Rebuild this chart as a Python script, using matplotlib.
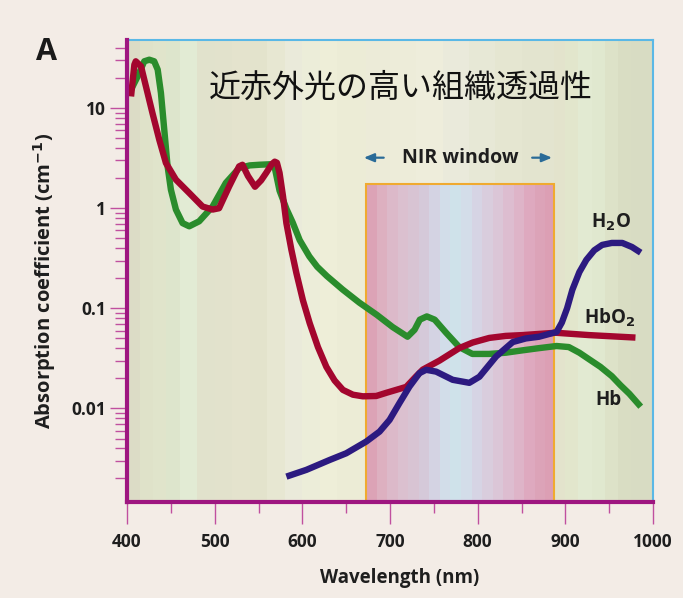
import matplotlib
matplotlib.use("Agg")
import matplotlib.pyplot as plt
from matplotlib.ticker import FixedLocator, LogLocator, NullFormatter, FuncFormatter
from matplotlib.patches import Rectangle

# ---------------- data ----------------
hb_wl = [404.6, 412.2, 419.7, 425.4, 431, 435, 438.7, 442.5, 446.3, 450.1, 455.8, 463.4, 471, 482.3,
         497.6, 512.7, 527.9, 540, 551, 563, 568.5, 574, 582, 589, 597, 608, 617, 628, 646, 665,
         685, 703, 720, 728, 734, 742, 751, 764, 779, 794, 813, 832, 851, 870, 890, 904, 916,
         927, 940, 953, 963, 973, 986]
hb_val = [15.3, 20.8, 29.4, 30.5, 29.4, 24.3, 14.2, 6.1, 2.62, 1.53, 0.97, 0.71, 0.66, 0.74,
          1.04, 1.79, 2.52, 2.68, 2.72, 2.75, 2.55, 1.5, 0.98, 0.72, 0.48, 0.33, 0.26, 0.21, 0.154, 0.114,
          0.086, 0.065, 0.052, 0.061, 0.077, 0.083, 0.077, 0.057, 0.041, 0.035, 0.035, 0.036, 0.038, 0.040, 0.042, 0.041, 0.036,
          0.031, 0.026, 0.021, 0.017, 0.014, 0.0104]

hbo2_wl = [404.6, 408.4, 410, 416, 421.6, 429, 436.8, 444.4, 455.8, 471, 486.2, 497.6, 505, 516.5,
           527.9, 531.7, 538, 546, 553, 559, 565, 568.5, 571, 574, 578, 581.8, 587.5, 593.2, 600.7,
           608.4, 617.8, 627.4, 636.8, 646.3, 657.7, 669, 684.3, 695.7, 707, 718.5, 729.8, 737.4,
           756.4, 779, 794.3, 813.3, 832, 851, 889, 927, 980]
hbo2_val = [13.1, 27.2, 29.4, 26.2, 16.5, 8.96, 4.84, 2.83, 1.93, 1.42, 1.04, 0.97, 1.0, 1.65,
            2.62, 2.72, 2.1, 1.64, 1.9, 2.27, 2.75, 2.92, 2.85, 2.26, 1.31, 0.71, 0.385, 0.225, 0.12,
            0.071, 0.041, 0.026, 0.019, 0.0153, 0.0137, 0.0132, 0.0133, 0.0143, 0.0153, 0.0164, 0.0209, 0.0244,
            0.030, 0.040, 0.0455, 0.0506, 0.053, 0.054, 0.057, 0.054, 0.051]

h2o_wl = [581.8, 604.6, 631.1, 650.1, 672.9, 688.1, 699.5, 710.8, 722.2, 733.6, 741.2, 752.6, 771.5,
          790.5, 802, 821, 840, 855, 870, 890, 896, 902, 908, 916, 924, 933, 942, 953, 965, 976, 986]
h2o_val = [0.00208, 0.00243, 0.00305, 0.00356, 0.00466, 0.00586, 0.00767, 0.0113, 0.0165, 0.0225, 0.0243,
           0.0233, 0.0193, 0.018, 0.0207, 0.033, 0.046, 0.050, 0.052, 0.058, 0.072, 0.10, 0.153, 0.23,
           0.305, 0.38, 0.43, 0.45, 0.45, 0.41, 0.36]

x_ticks = [400, 500, 600, 700, 800, 900, 1000]
x_minor = [450, 550, 650, 750, 850, 950]
y_ticks = [0.01, 0.1, 1, 10]
y_ticklabels = ["0.01", "0.1", "1", "10"]

nir_range = (673, 887)
nir_top = 1.76

# ---------------- style ----------------
BG = "#f3ece6"
MAG = "#9e1680"
TICKC = "#c0509f"
BLUE_FRAME = "#5ab8e6"
C_HB = "#2a8c2c"
C_HBO2 = "#a3062e"
C_H2O = "#2c1a80"
FONT = ["Open Sans", "DejaVu Sans"]

# background bands (wavelength edges, colours)
bg_edges = [400, 415, 430, 445, 460, 480, 500, 520, 540, 560, 580, 600, 620, 640, 673,
            700, 730, 760, 790, 820, 850, 887, 900, 915, 930, 945, 960, 975, 1000]
bg_cols = ["#dcdcc6", "#dfe2c9", "#e0e4cb", "#dde5cc", "#e2ebd4", "#e1e2cc", "#e2e2cc", "#e4e3cd",
           "#e3e3cc", "#e7e7d2", "#eaeada", "#ecedd9", "#eeeed8", "#ececd6",
           "#ecebd8", "#edecd9", "#eeeddb", "#eaeadb", "#e7e8d6", "#e5e6d1", "#e3e4cf",
           "#e3e3cc", "#e2e6cc", "#e2ead2", "#e0e8cf", "#dde2c8", "#d9ddc3", "#d8dcc3"]

nir_edges = [673, 685, 697, 709, 721, 733, 745, 757, 769, 781, 793, 805, 817, 829, 841, 853,
             865, 877, 887]
nir_cols = ["#dca3b6", "#ddb0c0", "#dcb9c9", "#dbc0cf", "#d8c4d3", "#d5c9d9", "#d4d3e3", "#d2dde9",
            "#cfe2ea", "#d3dde9", "#d6d4e4", "#d9cddd", "#dbc6d7", "#ddbdd0", "#deb4c8", "#dea9bf",
            "#dca3b8", "#dc9fb4"]

ymin, ymax = 0.00116, 48

fig = plt.figure(figsize=(6.83, 5.98), dpi=100, facecolor=BG)
ax = fig.add_axes([127 / 683, 1 - 502 / 598, 526 / 683, 462 / 598])
ax.set_yscale("log")
ax.set_xlim(400, 1000)
ax.set_ylim(ymin, ymax)

for i, c in enumerate(bg_cols):
    ax.axvspan(bg_edges[i], bg_edges[i + 1], color=c, lw=0, zorder=0)
for i, c in enumerate(nir_cols):
    ax.fill_between([nir_edges[i], nir_edges[i + 1]], ymin, nir_top, color=c, lw=0, zorder=1)
ax.add_patch(Rectangle((nir_range[0], ymin), nir_range[1] - nir_range[0], nir_top - ymin,
                       fill=False, ec="#f0aa30", lw=1.5, zorder=2))

line_kw = dict(lw=4.6, solid_capstyle="butt", solid_joinstyle="round")
ax.plot(hb_wl, hb_val, color=C_HB, zorder=3, **line_kw)
ax.plot(hbo2_wl, hbo2_val, color=C_HBO2, zorder=4, **line_kw)
ax.plot(h2o_wl, h2o_val, color=C_H2O, zorder=5, **line_kw)

# spines
for s in ["top", "right"]:
    ax.spines[s].set_color(BLUE_FRAME)
    ax.spines[s].set_linewidth(1.5)
for s in ["left", "bottom"]:
    ax.spines[s].set_color(MAG)
    ax.spines[s].set_linewidth(3)
    ax.spines[s].set_zorder(6)

ax.xaxis.set_major_locator(FixedLocator(x_ticks))
ax.xaxis.set_minor_locator(FixedLocator(x_minor))
ax.yaxis.set_major_locator(FixedLocator(y_ticks))
ax.yaxis.set_minor_locator(LogLocator(base=10, subs=range(2, 10), numticks=20))
ax.yaxis.set_minor_formatter(NullFormatter())
ax.yaxis.set_major_formatter(FuncFormatter(lambda v, p: y_ticklabels[y_ticks.index(v)] if v in y_ticks else ""))
ax.xaxis.set_major_formatter(FuncFormatter(lambda v, p: f"{int(v)}"))

ax.tick_params(axis="x", which="major", length=16, width=1, color=TICKC, pad=6,
               labelsize=12.5, labelcolor="#1e1e1e")
ax.tick_params(axis="x", which="minor", length=8, width=1, color=TICKC)
ax.tick_params(axis="y", which="major", length=12, width=1, color=TICKC, pad=3,
               labelsize=12.5, labelcolor="#1e1e1e")
ax.tick_params(axis="y", which="minor", length=9, width=1, color=TICKC)
for lab in ax.get_xticklabels() + ax.get_yticklabels():
    lab.set_family(FONT)
    lab.set_fontweight("bold")

ax.set_xlabel("Wavelength (nm)", fontsize=13.5, fontweight="bold", family=FONT,
              color="#1e1e1e")
ax.xaxis.set_label_coords((400 - 127) / 526, -(568 - 502) / 462)
fig.text(45 / 683, 1 - 281 / 598, "Absorption coefficient (cm$^{\\mathbf{-1}}$)", rotation=90,
         ha="center", va="center", fontsize=14.5, fontweight="bold", family=FONT, color="#1e1e1e")

fig.text(46 / 683, 1 - 52 / 598, "A", ha="center", va="center", fontsize=22,
         fontweight="bold", family=FONT, color="#1a1a1a")

ax.text(0.52, 1 - (88 - 40) / 462, "近赤外光の高い組織透過性", transform=ax.transAxes,
        ha="center", va="center", fontsize=23, family=["Noto Sans CJK JP", "DejaVu Sans"],
        color="#111111", zorder=7)

# NIR window label with arrows
ax.text(780, 3.2, "NIR window", ha="center", va="center", fontsize=14,
        fontweight="bold", family=FONT, color="#1e1e1e", zorder=7)
ax.annotate("", xy=(667, 3.2), xytext=(696, 3.2),
            arrowprops=dict(arrowstyle="-|>,head_length=0.6,head_width=0.25", color="#2a6b98", lw=1.6))
ax.annotate("", xy=(888, 3.2), xytext=(859, 3.2),
            arrowprops=dict(arrowstyle="-|>,head_length=0.6,head_width=0.25", color="#2a6b98", lw=1.6))

# curve labels
lab_kw = dict(ha="center", va="center", fontsize=13.5, fontweight="bold", family=FONT,
              color="#1e1e1e", zorder=7)
ax.text(952, 0.73, "H$_\\mathbf{2}$O", **lab_kw)
ax.text(951, 0.080, "HbO$_\\mathbf{2}$", **lab_kw)
ax.text(949, 0.0122, "Hb", **lab_kw)

fig.savefig("out.png", dpi=100, facecolor=BG)
